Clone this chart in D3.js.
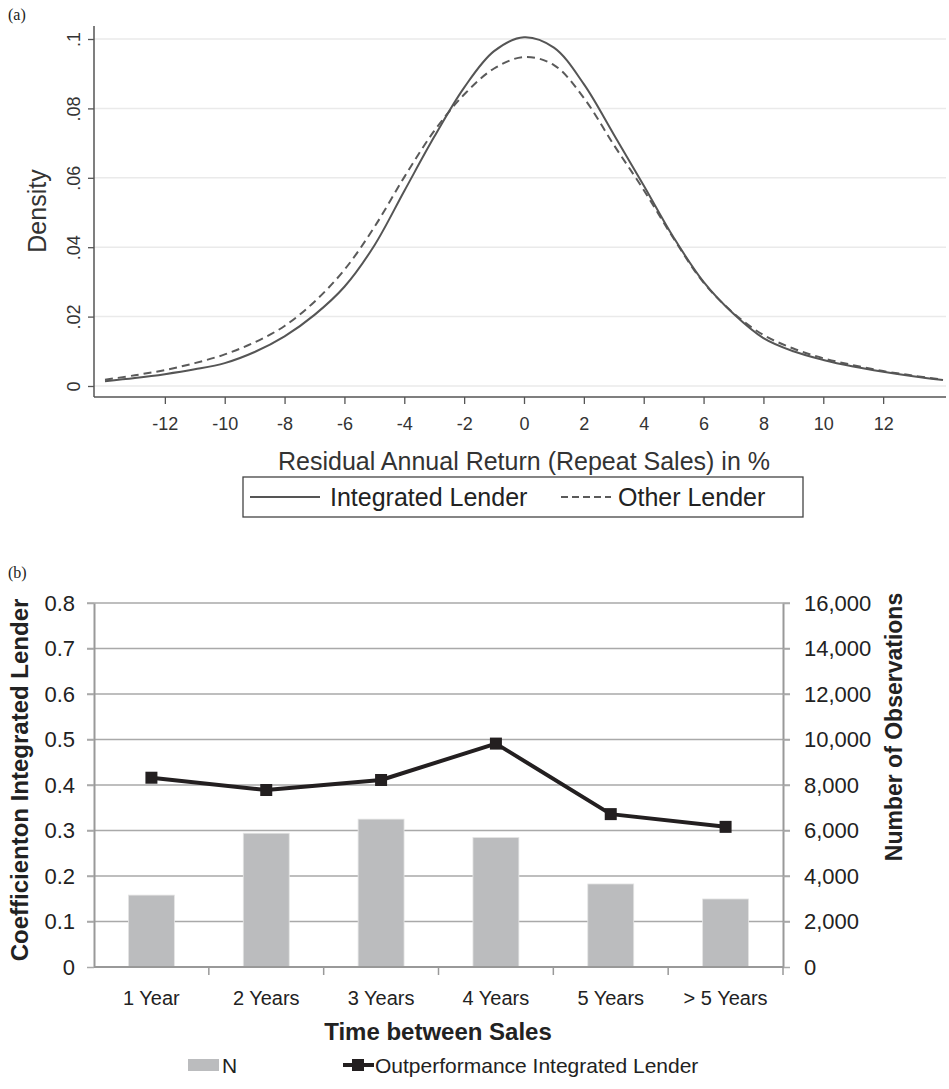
<!DOCTYPE html>
<html>
<head>
<meta charset="utf-8">
<script src="https://cdn.jsdelivr.net/npm/d3@7"></script>
<style>
  body { margin: 0; background: #fff; }
  svg { display: block; }
</style>
</head>
<body>
<svg id="chart" width="949" height="1089"></svg>
<script>
// ---- panel (a): kernel densities ----
const returnPct = [-14,-13,-12,-11,-10,-9,-8,-7,-6,-5,-4,-3,-2,-1,0,1,2,3,4,5,6,7,8,9,10,11,12,13,14];
const densityIntegrated = [0.0014,0.0023,0.0034,0.0048,0.0066,0.0098,0.0143,0.0205,0.0286,0.0405,0.0562,0.0718,0.0860,0.0965,0.1005,0.0975,0.0870,0.0725,0.0578,0.0428,0.0300,0.0208,0.0138,0.0100,0.0075,0.0056,0.0041,0.0028,0.0017];
const densityOther = [0.0018,0.0031,0.0046,0.0066,0.0091,0.0126,0.0173,0.0243,0.0335,0.0458,0.0602,0.0735,0.0840,0.0915,0.0948,0.0925,0.0830,0.0695,0.0565,0.0425,0.0298,0.0210,0.0147,0.0108,0.0080,0.0060,0.0043,0.0030,0.0018];
const xTicksA = [-12,-10,-8,-6,-4,-2,0,2,4,6,8,10,12];
const yTicksA = [0, 0.02, 0.04, 0.06, 0.08, 0.1];
const yTickLabelsA = ["0", ".02", ".04", ".06", ".08", ".1"];

// ---- panel (b): by time between sales ----
const periods = ["1 Year", "2 Years", "3 Years", "4 Years", "5 Years", "> 5 Years"];
const observations = [3160, 5880, 6500, 5690, 3650, 2990];
const outperformance = [0.416, 0.389, 0.411, 0.491, 0.336, 0.308];
const yTicksLeft = [0, 0.1, 0.2, 0.3, 0.4, 0.5, 0.6, 0.7, 0.8];
const yTicksRight = [0, 2000, 4000, 6000, 8000, 10000, 12000, 14000, 16000];

const svg = d3.select("#chart");
const sans = "'Liberation Sans', Arial, Helvetica, sans-serif";

// ================= panel (a) =================
const a = { left: 94, right: 946, top: 26, bottom: 397 };
const xA = d3.scaleLinear().domain([-14, 14]).range([105, 943]);
const yA = d3.scaleLinear().domain([0, 0.1]).range([386, 39]);

svg.append("text").attr("x", 8).attr("y", 20)
  .attr("font-family", "'Liberation Serif', 'Times New Roman', serif")
  .attr("font-size", 16).attr("fill", "#222").text("(a)");

const gA = svg.append("g");

// gridlines
gA.selectAll(".gridA").data(yTicksA).enter().append("line")
  .attr("x1", a.left).attr("x2", a.right)
  .attr("y1", d => yA(d)).attr("y2", d => yA(d))
  .attr("stroke", "#eaeaea").attr("stroke-width", 1.5);

// y axis
gA.append("g")
  .attr("transform", `translate(${a.left},0)`)
  .call(d3.axisLeft(yA).tickValues(yTicksA).tickSize(6).tickSizeOuter(0)
    .tickFormat((d, i) => yTickLabelsA[i]))
  .call(g => g.select(".domain").attr("d", `M0,${a.top}V${a.bottom}`)
    .attr("stroke", "#555").attr("stroke-width", 1.5))
  .call(g => g.selectAll(".tick line").attr("stroke", "#555").attr("stroke-width", 1.3))
  .call(g => g.selectAll(".tick text")
    .attr("font-family", sans).attr("font-size", 18).attr("fill", "#333")
    .attr("transform", "rotate(-90)")
    .attr("x", 0).attr("y", -20).attr("dy", "0.35em")
    .attr("text-anchor", "middle"));

// x axis (plain hyphen for negatives, as in the original)
gA.append("g")
  .attr("transform", `translate(0,${a.bottom})`)
  .call(d3.axisBottom(xA).tickValues(xTicksA).tickSize(7).tickSizeOuter(0)
    .tickFormat(d => String(d)))
  .call(g => g.select(".domain").attr("d", `M${a.left},0H${a.right}`)
    .attr("stroke", "#555").attr("stroke-width", 1.5))
  .call(g => g.selectAll(".tick line").attr("stroke", "#555").attr("stroke-width", 1.3))
  .call(g => g.selectAll(".tick text")
    .attr("font-family", sans).attr("font-size", 18).attr("fill", "#333").attr("y", 20));

gA.append("text")
  .attr("transform", "translate(46,211) rotate(-90)")
  .attr("text-anchor", "middle")
  .attr("font-family", sans).attr("font-size", 25).attr("fill", "#333")
  .text("Density");

gA.append("text")
  .attr("x", 524).attr("y", 470)
  .attr("text-anchor", "middle")
  .attr("font-family", sans).attr("font-size", 25).attr("fill", "#333")
  .text("Residual Annual Return (Repeat Sales) in %");

const lineA = values => d3.line()
  .x((d, i) => xA(returnPct[i]))
  .y(d => yA(d))
  .curve(d3.curveCatmullRom)(values);

gA.append("path").attr("d", lineA(densityOther))
  .attr("fill", "none").attr("stroke", "#5a5a5a").attr("stroke-width", 2)
  .attr("stroke-dasharray", "8,5");
gA.append("path").attr("d", lineA(densityIntegrated))
  .attr("fill", "none").attr("stroke", "#555").attr("stroke-width", 2);

// legend (a)
const legA = svg.append("g");
legA.append("rect").attr("x", 243).attr("y", 477).attr("width", 560).attr("height", 40)
  .attr("fill", "#fff").attr("stroke", "#444").attr("stroke-width", 1.3);
legA.append("line").attr("x1", 250).attr("x2", 320).attr("y1", 497).attr("y2", 497)
  .attr("stroke", "#555").attr("stroke-width", 2);
legA.append("text").attr("x", 330).attr("y", 506)
  .attr("font-family", sans).attr("font-size", 25).attr("fill", "#222").text("Integrated Lender");
legA.append("line").attr("x1", 561).attr("x2", 611).attr("y1", 497).attr("y2", 497)
  .attr("stroke", "#5a5a5a").attr("stroke-width", 2).attr("stroke-dasharray", "7,4");
legA.append("text").attr("x", 618).attr("y", 506)
  .attr("font-family", sans).attr("font-size", 25).attr("fill", "#222").text("Other Lender");

// ================= panel (b) =================
const b = { left: 94, right: 783, top: 603, bottom: 967 };
const xB = d3.scaleBand().domain(periods).range([b.left, b.right]).paddingInner(0).paddingOuter(0);
const yL = d3.scaleLinear().domain([0, 0.8]).range([b.bottom, b.top]);
const yR = d3.scaleLinear().domain([0, 16000]).range([b.bottom, b.top]);

svg.append("text").attr("x", 8).attr("y", 578)
  .attr("font-family", "'Liberation Serif', 'Times New Roman', serif")
  .attr("font-size", 16).attr("fill", "#222").text("(b)");

const gB = svg.append("g");

// gridlines
gB.selectAll(".gridB").data(yTicksLeft.slice(1)).enter().append("line")
  .attr("x1", b.left - 7).attr("x2", b.right + 7)
  .attr("y1", d => yL(d)).attr("y2", d => yL(d))
  .attr("stroke", "#a9a9a9").attr("stroke-width", 1.5);

// bars
const barW = xB.bandwidth() * 0.4;
gB.selectAll(".bar").data(observations).enter().append("rect")
  .attr("x", (d, i) => xB(periods[i]) + (xB.bandwidth() - barW) / 2)
  .attr("y", d => yR(d))
  .attr("width", barW)
  .attr("height", d => yR(0) - yR(d))
  .attr("fill", "#bbbcbe").attr("stroke", "#e4e4e4").attr("stroke-width", 0.8);

// left axis
gB.append("g")
  .attr("transform", `translate(${b.left},0)`)
  .call(d3.axisLeft(yL).tickValues(yTicksLeft).tickSize(7).tickSizeOuter(0)
    .tickFormat(d3.format(".1f")))
  .call(g => g.select(".domain").attr("stroke", "#999").attr("stroke-width", 2))
  .call(g => g.selectAll(".tick line").attr("stroke", "#a9a9a9").attr("stroke-width", 1.5))
  .call(g => g.selectAll(".tick text")
    .attr("font-family", sans).attr("font-size", 22).attr("fill", "#222")
    .attr("x", -19).text(d => d === 0 ? "0" : d3.format(".1f")(d)));

// right axis
gB.append("g")
  .attr("transform", `translate(${b.right},0)`)
  .call(d3.axisRight(yR).tickValues(yTicksRight).tickSize(7).tickSizeOuter(0)
    .tickFormat(d3.format(",")))
  .call(g => g.select(".domain").attr("stroke", "#999").attr("stroke-width", 2))
  .call(g => g.selectAll(".tick line").attr("stroke", "#a9a9a9").attr("stroke-width", 1.5))
  .call(g => g.selectAll(".tick text")
    .attr("font-family", sans).attr("font-size", 22).attr("fill", "#222").attr("x", 21));

// bottom axis: ticks at band boundaries
gB.append("line").attr("x1", b.left).attr("x2", b.right)
  .attr("y1", b.bottom).attr("y2", b.bottom)
  .attr("stroke", "#999").attr("stroke-width", 2);
gB.selectAll(".btick").data(periods).enter().append("line")
  .attr("x1", d => xB(d) + xB.bandwidth()).attr("x2", d => xB(d) + xB.bandwidth())
  .attr("y1", b.bottom).attr("y2", b.bottom + 8)
  .attr("stroke", "#999").attr("stroke-width", 1.5);
gB.selectAll(".blabel").data(periods).enter().append("text")
  .attr("x", d => xB(d) + xB.bandwidth() / 2).attr("y", 1005)
  .attr("text-anchor", "middle")
  .attr("font-family", sans).attr("font-size", 20).attr("fill", "#222")
  .text(d => d);

// line series
const lineB = d3.line()
  .x((d, i) => xB(periods[i]) + xB.bandwidth() / 2)
  .y(d => yL(d));
gB.append("path").attr("d", lineB(outperformance))
  .attr("fill", "none").attr("stroke", "#231f20").attr("stroke-width", 4)
  .attr("stroke-linejoin", "round");
gB.selectAll(".marker").data(outperformance).enter().append("rect")
  .attr("x", (d, i) => xB(periods[i]) + xB.bandwidth() / 2 - 6)
  .attr("y", d => yL(d) - 6)
  .attr("width", 12).attr("height", 12)
  .attr("fill", "#231f20");

// axis titles
gB.append("text")
  .attr("transform", "translate(28,780) rotate(-90)")
  .attr("text-anchor", "middle")
  .attr("font-family", sans).attr("font-weight", "bold").attr("font-size", 24).attr("fill", "#222")
  .text("Coefficienton Integrated Lender");
gB.append("text")
  .attr("transform", "translate(902,727) rotate(-90)")
  .attr("text-anchor", "middle")
  .attr("font-family", sans).attr("font-weight", "bold").attr("font-size", 23).attr("fill", "#222")
  .text("Number of Observations");
gB.append("text")
  .attr("x", 438).attr("y", 1040)
  .attr("text-anchor", "middle")
  .attr("font-family", sans).attr("font-weight", "bold").attr("font-size", 24).attr("fill", "#222")
  .text("Time between Sales");

// legend (b)
const legB = svg.append("g");
legB.append("rect").attr("x", 188).attr("y", 1059).attr("width", 31).attr("height", 12)
  .attr("fill", "#bbbcbe");
legB.append("text").attr("x", 222).attr("y", 1073)
  .attr("font-family", sans).attr("font-size", 21).attr("fill", "#222").text("N");
legB.append("line").attr("x1", 343).attr("x2", 374).attr("y1", 1065).attr("y2", 1065)
  .attr("stroke", "#231f20").attr("stroke-width", 4);
legB.append("rect").attr("x", 352).attr("y", 1059).attr("width", 12).attr("height", 12)
  .attr("fill", "#231f20");
legB.append("text").attr("x", 375).attr("y", 1073)
  .attr("font-family", sans).attr("font-size", 21).attr("fill", "#222")
  .text("Outperformance Integrated Lender");
</script>
</body>
</html>
